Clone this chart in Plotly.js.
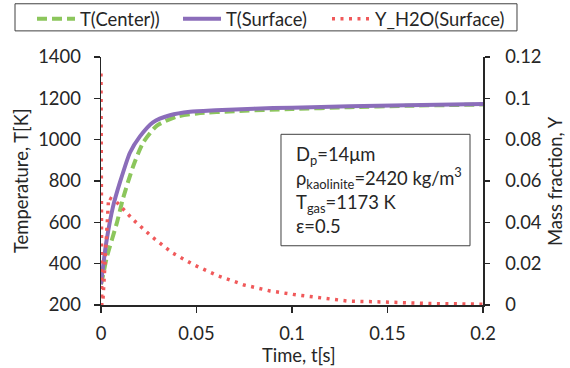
<!DOCTYPE html>
<html>
<head>
<meta charset="utf-8">
<script src="https://cdn.plot.ly/plotly-3.0.1.min.js"></script>
<style>
html,body{margin:0;padding:0;background:#fff;}
#chart{width:570px;height:368px;}
</style>
</head>
<body>
<div id="chart"></div>
<script>
// Time axis values [s] and series
const tCenter = [0, 0.001, 0.0031, 0.0084, 0.0115, 0.0168, 0.022, 0.0293, 0.0398, 0.0503, 0.07, 0.1, 0.13, 0.16, 0.2];
const TCenter = [300, 340, 433, 600, 715, 870, 985, 1068, 1112, 1127, 1138, 1148, 1157, 1164, 1170];

const tSurface = [0, 0.001, 0.003, 0.0063, 0.0099, 0.0152, 0.0204, 0.0272, 0.0361, 0.0466, 0.06, 0.08, 0.1, 0.13, 0.16, 0.2];
const TSurface = [300, 380, 516, 676, 793, 938, 1016, 1084, 1118, 1135, 1142, 1150, 1155, 1162, 1167, 1172];

const tH2O = [0, 0.0004, 0.001, 0.0025, 0.004, 0.008, 0.0168, 0.0267, 0.0372, 0.0487, 0.0613, 0.0749, 0.0885, 0.1021, 0.1157, 0.1293, 0.1466, 0.172, 0.2];
const YH2O = [0.112, 0.0, 0.002, 0.03, 0.052, 0.050, 0.0413, 0.033, 0.0253, 0.0194, 0.0141, 0.0097, 0.0068, 0.0049, 0.0034, 0.0019, 0.0015, 0.0007, 0.0004];

const seriesNames = ["T(Center))", "T(Surface)", "Y_H2O(Surface)"];
const xTicks = [0, 0.05, 0.1, 0.15, 0.2];
const xTitle = "Time, t[s]";
const yTitle = "Temperature, T[K]";
const y2Title = "Mass fraction, Y";
const infoText = "D<sub>p</sub>=14μm<br>ρ<sub>kaolinite</sub>=2420 kg/m<sup>3</sup><br>T<sub>gas</sub>=1173 K<br>ε=0.5";

const FONT = "Lato, 'Open Sans', sans-serif";
const FS = 18.4;
const TXT = "#262626";
const AX = "#262626";
const font = {family: FONT, size: FS, color: TXT};

const traces = [
  {x: tCenter, y: TCenter, name: seriesNames[0], mode: "lines", type: "scatter", legend: "legend",
   line: {color: "#8CC65C", width: 4, dash: "10px,5px", shape: "spline", smoothing: 0.6}},
  {x: tSurface, y: TSurface, name: seriesNames[1], mode: "lines", type: "scatter", legend: "legend2",
   line: {color: "#8B6DBA", width: 4, shape: "spline", smoothing: 0.6}},
  {x: tH2O, y: YH2O, name: seriesNames[2], mode: "lines", type: "scatter", yaxis: "y2", legend: "legend3",
   line: {color: "#F0595A", width: 3.5, dash: "3px,5.5px"}}
];

function legendAt(xPaper) {
  return {orientation: "h", x: xPaper, xanchor: "left", y: 1.229, yanchor: "top",
          borderwidth: 0, bgcolor: "rgba(0,0,0,0)", font: font, itemwidth: 38};
}

const layout = {
  width: 570, height: 368,
  margin: {l: 101, r: 87, t: 57, b: 63, autoexpand: false},
  paper_bgcolor: "#fff", plot_bgcolor: "#fff",
  font: font,
  showlegend: true,
  legend: legendAt(-0.1806),
  legend2: legendAt(0.2016),
  legend3: legendAt(0.5916),
  xaxis: {
    range: [0, 0.2], tickvals: xTicks, ticktext: xTicks.map(String),
    showgrid: false, zeroline: false, showline: true, linecolor: AX, linewidth: 1.5,
    ticks: "outside", ticklen: 6, tickcolor: AX, tickwidth: 1.5, ticklabelstandoff: 5,
    tickfont: font
  },
  yaxis: {
    range: [200, 1400], dtick: 200,
    showgrid: false, zeroline: false, showline: true, linecolor: AX, linewidth: 1.5,
    ticks: "outside", ticklen: 6, tickcolor: AX, tickwidth: 1.5, ticklabelstandoff: 9,
    tickfont: font
  },
  yaxis2: {
    range: [0, 0.12], dtick: 0.02, overlaying: "y", side: "right",
    showgrid: false, zeroline: false, showline: true, linecolor: AX, linewidth: 1.5,
    ticks: "outside", ticklen: 5, tickcolor: AX, tickwidth: 1.5, ticklabelstandoff: 12,
    tickfont: font
  },
  shapes: [
    // legend frame
    {type: "rect", xref: "paper", yref: "paper", x0: -0.2251, x1: 1.089, y0: 1.1053, y1: 1.2146,
     line: {color: "#404040", width: 1}, fillcolor: "rgba(0,0,0,0)", layer: "below"},
    // info box frame
    {type: "rect", xref: "paper", yref: "paper", x0: 0.4712, x1: 0.9660, y0: 0.2389, y1: 0.6883,
     line: {color: "#404040", width: 1}, fillcolor: "#fff", layer: "above"}
  ],
  annotations: [
    {xref: "paper", yref: "paper", x: 0.518, y: -0.2024, xanchor: "center", yanchor: "middle",
     showarrow: false, text: xTitle, font: font},
    {xref: "paper", yref: "paper", x: -0.2094, y: 0.5, xanchor: "center", yanchor: "middle",
     textangle: -90, showarrow: false, text: yTitle, font: font},
    {xref: "paper", yref: "paper", x: 1.1885, y: 0.5, xanchor: "center", yanchor: "middle",
     textangle: -90, showarrow: false, text: y2Title, font: font},
    {xref: "paper", yref: "paper", x: 0.5054, y: 0.4656, xanchor: "left", yanchor: "middle",
     showarrow: false, align: "left", font: font, text: infoText}
  ]
};

Plotly.newPlot("chart", traces, layout, {staticPlot: true, displayModeBar: false});
</script>
</body>
</html>
